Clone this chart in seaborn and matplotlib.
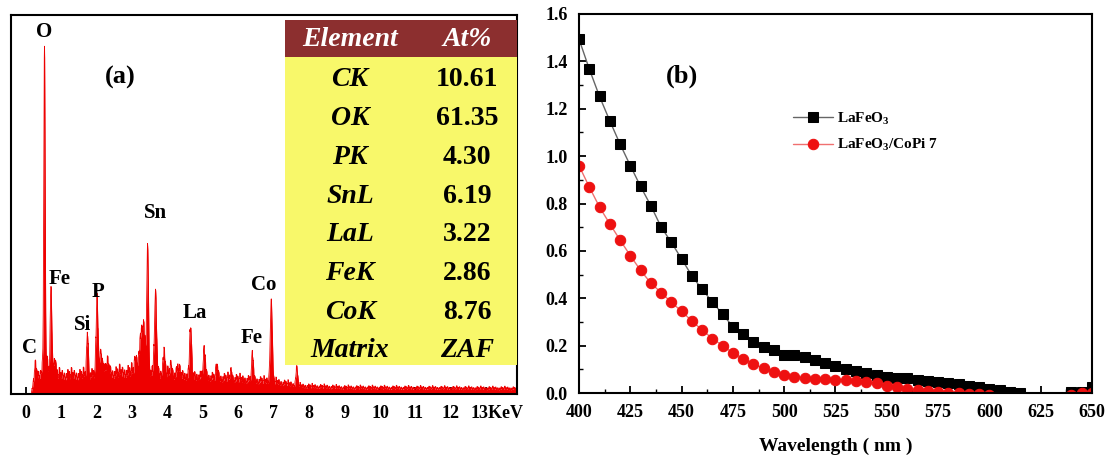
"""
EDS spectrum with composition table (a) and absorbance curves (b).
"""

import numpy as np
import matplotlib.pyplot as plt
import matplotlib.transforms as mtransforms
import seaborn as sns
from matplotlib.patches import Rectangle
from matplotlib.ticker import MultipleLocator


# ── Data: (a) EDS spectrum ───────────────────────────────────────────────────

peak_kev    = [0.27, 0.525, 0.53, 0.71, 0.80, 1.74, 2.01, 2.12, 2.30, 3.10, 3.30,
               3.44, 3.66, 3.90, 4.10, 4.30, 4.65, 5.04, 5.40, 5.80, 6.40, 6.93, 7.65]
peak_height = [2.5, 81.0, 6.0, 23.0, 4.0, 11.5, 20.5, 6.0, 2.5, 3.5, 12.0,
               32.0, 20.0, 5.5, 2.5, 2.0, 13.5, 6.5, 3.0, 2.0, 6.5, 21.5, 4.5]
peak_sigma  = [0.03, 0.018, 0.06, 0.022, 0.04, 0.022, 0.025, 0.04, 0.05, 0.03, 0.08,
               0.022, 0.03, 0.03, 0.03, 0.03, 0.025, 0.03, 0.025, 0.025, 0.025, 0.028, 0.025]

bg_kev = [0.15, 0.25, 0.6, 1.0, 1.5, 2.5, 3.0, 4.0, 5.0, 6.0, 7.0, 7.8, 9.0, 14.0]
bg_cts = [0.0, 3.5, 3.8, 3.8, 3.8, 4.2, 4.5, 4.0, 3.5, 3.0, 2.5, 1.6, 1.3, 1.1]
ripple = [0.0, 1.2, 0.4, 2.0, 0.8, 1.6, 0.2, 1.0, 2.4, 0.6, 1.4, 0.3, 1.8, 0.9, 0.1, 1.3, 0.5]

line_names = ["O", "C", "Fe", "Si", "P", "Sn", "La", "Fe", "Co"]
line_kev   = [0.51, 0.11, 0.96, 1.60, 2.05, 3.65, 4.76, 6.37, 6.72]
line_level = [95.5, 12.1, 30.3, 18.2, 26.9, 47.8, 21.4, 14.8, 28.8]

table_elements = ["CK", "OK", "PK", "SnL", "LaL", "FeK", "CoK", "Matrix"]
table_at_pct   = ["10.61", "61.35", "4.30", "6.19", "3.22", "2.86", "8.76", "ZAF"]

# ── Data: (b) absorbance vs wavelength ──────────────────────────────────────

wavelength = list(range(400, 655, 5))
lafeo3 = [1.494, 1.368, 1.252, 1.149, 1.051, 0.960, 0.872, 0.791, 0.701, 0.636,
          0.566, 0.495, 0.437, 0.385, 0.332, 0.280, 0.248, 0.216, 0.193, 0.181,
          0.160, 0.160, 0.150, 0.139, 0.125, 0.114, 0.103, 0.093, 0.083, 0.076,
          0.069, 0.065, 0.062, 0.055, 0.052, 0.048, 0.041, 0.038, 0.031, 0.024,
          0.017, 0.013, 0.006, 0.001, -0.03, -0.04, -0.04, -0.03, 0.004, 0.006,
          0.026]
lafeo3_copi = [0.960, 0.870, 0.785, 0.714, 0.646, 0.580, 0.518, 0.464, 0.424, 0.383,
               0.345, 0.304, 0.266, 0.230, 0.200, 0.169, 0.144, 0.123, 0.104, 0.087,
               0.076, 0.068, 0.063, 0.060, 0.059, 0.056, 0.055, 0.052, 0.046, 0.041,
               0.031, 0.024, 0.018, 0.013, 0.009, 0.005, 0.002, 0.000, -0.003, -0.006,
               -0.01, -0.02, -0.03, -0.04, -0.04, -0.04, -0.04, -0.03, -0.01, -0.002,
               0.000]

# ── Style ────────────────────────────────────────────────────────────────────

sns.set_theme(style="ticks")
plt.rcParams["font.family"] = ["Liberation Serif", "DejaVu Serif"]
plt.rcParams["font.weight"] = "bold"
plt.rcParams["mathtext.default"] = "regular"
plt.rcParams["axes.linewidth"] = 1.5
for key in ("text.color", "axes.labelcolor", "xtick.color", "ytick.color",
            "axes.edgecolor"):
    plt.rcParams[key] = "black"

fig = plt.figure(figsize=(11.09, 4.59), dpi=100)
ax_a = fig.add_axes([11 / 1109, 65 / 459, 506 / 1109, 379 / 459])
ax_b = fig.add_axes([579 / 1109, 66 / 459, 513 / 1109, 379 / 459])

# ── (a) spectrum ─────────────────────────────────────────────────────────────

energy = np.arange(0.1, 14.0, 0.005)
counts = np.interp(energy, bg_kev, bg_cts)
counts = counts * (1 + 0.35 * np.resize(np.repeat(ripple, 4), energy.size))
for mu, h, s in zip(peak_kev, peak_height, peak_sigma):
    counts = counts + h * np.exp(-0.5 * ((energy - mu) / s) ** 2)

ax_a.fill_between(energy, counts, color="#ee0000", lw=0)
sns.lineplot(x=energy, y=counts, ax=ax_a, color="#ee0000", lw=0.6)
ax_a.set_xlim(-0.42, 13.87)
ax_a.set_ylim(0, 100)
ax_a.set_yticks([])
ax_a.set_ylabel("")
ax_a.xaxis.set_major_locator(MultipleLocator(1))
ax_a.xaxis.set_minor_locator(MultipleLocator(0.5))
ax_a.tick_params(axis="x", which="major", direction="in", length=5, width=1.3,
                 pad=8, labelsize=13)
ax_a.tick_params(axis="x", which="minor", direction="in", length=3, width=1)
ax_a.set_xticks(range(14))
ax_a.set_xticklabels([str(i) for i in range(13)] + ["13KeV"])
lbl = ax_a.get_xticklabels()[-1]
lbl.set_horizontalalignment("left")
lbl.set_transform(lbl.get_transform()
                  + mtransforms.ScaledTranslation(-11 / 72, 0, fig.dpi_scale_trans))

for name, xk, yl in zip(line_names, line_kev, line_level):
    ax_a.text(xk, yl, name, ha="center", va="center", fontsize=15, fontweight="bold")
ax_a.text(109 / 506, (394 - 77) / 379, "(a)", transform=ax_a.transAxes,
          ha="center", va="center", fontsize=19, fontweight="bold")

# composition table
x0, x1 = (285 - 11) / 506, 1.0
y_top, y_head, y_bot = (394 - 20) / 379, (394 - 57) / 379, (394 - 365) / 379
ax_a.add_patch(Rectangle((x0, y_head), x1 - x0, y_top - y_head,
                         transform=ax_a.transAxes, color="#8c2f2f", lw=0, zorder=3))
ax_a.add_patch(Rectangle((x0, y_bot), x1 - x0, y_head - y_bot,
                         transform=ax_a.transAxes, color="#f8f86a", lw=0, zorder=3))
col_el, col_pct = (350 - 11) / 506, (467 - 11) / 506
head_y = (394 - 40) / 379
ax_a.text(col_el, head_y, "Element", transform=ax_a.transAxes, ha="center", va="center",
          fontsize=20, fontweight="bold", style="italic", color="white", zorder=4)
ax_a.text(col_pct, head_y, "At%", transform=ax_a.transAxes, ha="center", va="center",
          fontsize=20, fontweight="bold", style="italic", color="white", zorder=4)
for i, (el, pct) in enumerate(zip(table_elements, table_at_pct)):
    ry = (394 - (80 + 38.7 * i)) / 379
    ax_a.text(col_el, ry, el, transform=ax_a.transAxes, ha="center", va="center",
              fontsize=20, fontweight="bold", style="italic", zorder=4)
    ax_a.text(col_pct, ry, pct, transform=ax_a.transAxes, ha="center", va="center",
              fontsize=20, fontweight="bold", zorder=4,
              style="italic" if pct == "ZAF" else "normal")

# ── (b) absorbance ───────────────────────────────────────────────────────────

sns.lineplot(x=wavelength, y=lafeo3, ax=ax_b, color="#666666", lw=1,
             marker="s", markersize=6.5, markerfacecolor="black",
             markeredgecolor="black", label="LaFeO$_3$")
sns.lineplot(x=wavelength, y=lafeo3_copi, ax=ax_b, color="#f07070", lw=1,
             marker="o", markersize=7.5, markerfacecolor="#ee1111",
             markeredgecolor="#ee1111", label="LaFeO$_3$/CoPi 7")
ax_b.set_xlim(400, 650)
ax_b.set_ylim(0, 1.6)
ax_b.xaxis.set_major_locator(MultipleLocator(25))
ax_b.xaxis.set_minor_locator(MultipleLocator(12.5))
ax_b.yaxis.set_major_locator(MultipleLocator(0.2))
ax_b.yaxis.set_minor_locator(MultipleLocator(0.1))
ax_b.yaxis.set_major_formatter(plt.FormatStrFormatter("%.1f"))
ax_b.tick_params(which="major", direction="in", length=5, width=1.3, pad=8, labelsize=13)
ax_b.tick_params(which="minor", direction="in", length=3, width=1)
ax_b.set_xlabel("Wavelength ( nm )", fontsize=14, fontweight="bold", labelpad=12)
ax_b.set_ylabel("")
ax_b.text(103 / 513, (393 - 76) / 379, "(b)", transform=ax_b.transAxes,
          ha="center", va="center", fontsize=19, fontweight="bold")
ax_b.legend(loc="center left", bbox_to_anchor=(0.417, 0.689), frameon=False,
            fontsize=11, borderpad=0, borderaxespad=0, handlelength=2.6,
            handletextpad=0.3, labelspacing=0.7)

for ax in (ax_a, ax_b):
    for sp in ax.spines.values():
        sp.set_visible(True)
        sp.set_color("black")
        sp.set_linewidth(1.5)

fig.savefig("out.png", dpi=100)
